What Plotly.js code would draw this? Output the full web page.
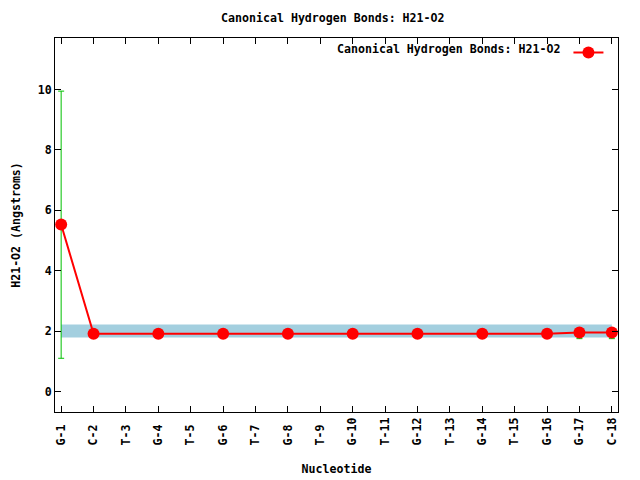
<!DOCTYPE html>
<html>
<head>
<meta charset="utf-8">
<script src="https://cdn.plot.ly/plotly-3.0.1.min.js"></script>
<style>html,body{margin:0;padding:0;background:#fff}#chart{width:640px;height:480px}</style>
</head>
<body>
<div id="chart"></div>
<script>
// ---- data ----
const categories = ['G-1','C-2','T-3','G-4','T-5','G-6','T-7','G-8','T-9','G-10','T-11','G-12','T-13','G-14','T-15','G-16','G-17','C-18'];
const pointNames = ['G-1','C-2','G-4','G-6','G-8','G-10','G-12','G-14','G-16','G-17','C-18'];
const distances  = [5.53, 1.91, 1.91, 1.91, 1.91, 1.91, 1.91, 1.91, 1.91, 1.95, 1.95];
const errPlus    = [4.42, 0.05, 0.05, 0.05, 0.05, 0.05, 0.05, 0.05, 0.05, 0.08, 0.08];
const errMinus   = [4.43, 0.05, 0.05, 0.05, 0.05, 0.05, 0.05, 0.05, 0.05, 0.2, 0.2];
const bandNames  = ['G-1','C-18'];
const bandLow    = [1.79, 1.79];
const bandHigh   = [2.22, 2.22];
const yTicks     = [0, 2, 4, 6, 8, 10];
const titleText  = 'Canonical Hydrogen Bonds: H21-O2';
const seriesName = 'Canonical Hydrogen Bonds: H21-O2';

const idx = n => categories.indexOf(n);
const maxLen = Math.max(...categories.map(c => c.length));
const tickText = categories.map(c => c + '\u00A0'.repeat(maxLen - c.length));

const F = {family: 'DejaVu Sans Mono, monospace', size: 11.6, color: '#000', weight: 'bold'};

const traces = [
  {x: bandNames.map(idx), y: bandLow, mode: 'lines', line: {width: 0, color: 'rgba(0,0,0,0)'}, showlegend: false, hoverinfo: 'skip'},
  {x: bandNames.map(idx), y: bandHigh, mode: 'lines', fill: 'tonexty', fillcolor: '#a3cfdf', line: {width: 0, color: 'rgba(0,0,0,0)'}, showlegend: false, hoverinfo: 'skip'},
  {x: pointNames.map(idx), y: distances, mode: 'lines', line: {color: 'rgba(0,0,0,0)', width: 0}, showlegend: false,
   error_y: {type: 'data', symmetric: false, array: errPlus, arrayminus: errMinus, color: '#00c000', thickness: 1, width: 3}},
  {x: pointNames.map(idx), y: distances, mode: 'lines+markers', name: '', line: {color: '#ff0000', width: 2},
   marker: {color: '#ff0000', size: 12, symbol: 'circle'}, showlegend: true}
];

const layout = {
  width: 640, height: 480,
  margin: {l: 55, r: 22, t: 38, b: 68, pad: 0},
  paper_bgcolor: '#fff', plot_bgcolor: '#fff',
  font: F,
  title: {text: titleText, font: F, x: 0.52, xanchor: 'center', y: 0.962, yanchor: 'middle'},
  showlegend: true,
  legend: {x: 0.993, xanchor: 'right', y: 1, yanchor: 'top', orientation: 'h', bgcolor: 'rgba(0,0,0,0)',
           font: F, title: {text: seriesName, side: 'left', font: F}},
  xaxis: {range: [-0.19, 17.19], tickmode: 'array', tickvals: categories.map((c, i) => i), ticktext: tickText,
          tickangle: -90, ticks: 'inside', ticklen: 6, tickcolor: '#000', showline: true, linecolor: '#000', linewidth: 1,
          mirror: 'ticks', showgrid: false, zeroline: false, tickfont: F,
          title: {text: 'Nucleotide', font: F, standoff: 20}},
  yaxis: {range: [-0.68, 11.71], tickmode: 'array', tickvals: yTicks, ticktext: yTicks.map(String),
          ticks: 'inside', ticklen: 6, tickcolor: '#000', showline: true, linecolor: '#000', linewidth: 1,
          mirror: 'ticks', showgrid: false, zeroline: false, tickfont: F,
          title: {text: 'H21-O2 (Angstroms)', font: F, standoff: 14}}
};

Plotly.newPlot('chart', traces, layout, {displayModeBar: false, staticPlot: true});
</script>
</body>
</html>
